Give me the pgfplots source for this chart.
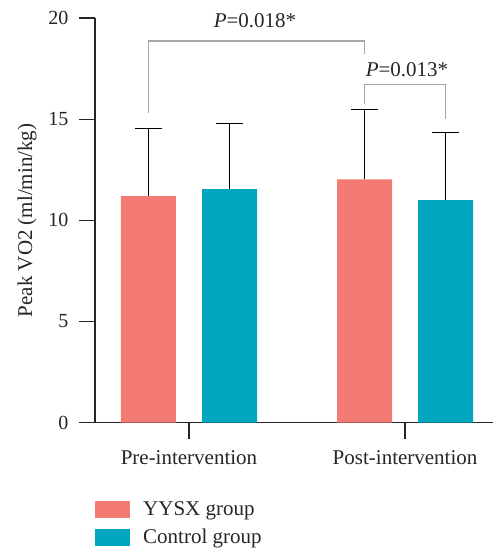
\documentclass[border=0pt]{standalone}
\usepackage{pgfplots}
\pgfplotsset{compat=1.18}
\usepackage{fontspec}
\setmainfont{Liberation Serif}
\definecolor{salmonc}{HTML}{F47B73}
\definecolor{tealc}{HTML}{00A7BE}
\definecolor{bracketc}{HTML}{A6A6A6}
\begin{document}
\begin{tikzpicture}
\path[use as bounding box] (-95pt,-125.3pt) rectangle (398pt,422.7pt);
\begin{axis}[
  at={(0pt,0pt)}, anchor=south west,
  scale only axis, width=398pt, height=404.7pt,
  xmin=-0.435, xmax=1.407, ymin=0, ymax=20,
  axis x line=bottom, axis y line=left,
  axis line style={-, line width=1.2pt, black!85},
  ytick={0,5,10,15,20},
  xtick={0,1}, xticklabels={Pre-intervention, Post-intervention},
  tick align=outside, major tick length=16pt,
  tick style={line width=1.2pt, black!85},
  /pgf/number format/assume math mode=true,
  yticklabel style={font=\fontsize{20}{20}\selectfont, black!85, xshift=-7pt},
  xticklabel style={font=\fontsize{21}{21}\selectfont, black!85, yshift=-8pt},
  ylabel={Peak VO2 (ml/min/kg)},
  ylabel style={at={(axis description cs:0,0.5)}, yshift=68pt, anchor=center, font=\fontsize{21}{21}\selectfont, black!85},
  clip=false,
  legend style={at={(0,0)}, anchor=north west, yshift=-77pt, draw=none, fill=none,
    font=\fontsize{21}{21}\selectfont, row sep=8pt, inner sep=0pt, cells={anchor=west}, text=black!85,
    /tikz/every odd column/.append style={column sep=11pt}},
  legend image code/.code={\fill[#1] (0pt,-8.5pt) rectangle (35pt,8.5pt);},
]
\addplot[ybar, bar width=55pt, bar shift=0pt, fill=salmonc, draw=none,
  error bars/.cd, y dir=plus, y explicit,
  error bar style={line width=1.2pt, black},
  error mark options={rotate=90, mark size=13.5pt, line width=1.2pt, black}]
  coordinates {(-0.1875,11.2) +- (0,3.32) (0.8125,12.03) +- (0,3.43)};
\addlegendentry{YYSX group}
\addplot[ybar, bar width=55pt, bar shift=0pt, fill=tealc, draw=none,
  error bars/.cd, y dir=plus, y explicit,
  error bar style={line width=1.2pt, black},
  error mark options={rotate=90, mark size=13.5pt, line width=1.2pt, black}]
  coordinates {(0.1875,11.54) +- (0,3.23) (1.1875,11.0) +- (0,3.34)};
\addlegendentry{Control group}
\addplot[bracketc, line width=1.2pt, no markers, forget plot]
  coordinates {(-0.1875,15.3) (-0.1875,18.86) (0.8125,18.86) (0.8125,18.2)};
\addplot[bracketc, line width=1.2pt, no markers, forget plot]
  coordinates {(0.8125,15.77) (0.8125,16.71) (1.1875,16.71) (1.1875,15.03)};
\node[anchor=base, font=\fontsize{21}{21}\selectfont, text=black!85, inner sep=0pt] at (axis cs:0.3056,19.51) {\textit{P}=0.018*};
\node[anchor=base, font=\fontsize{21}{21}\selectfont, text=black!85, inner sep=0pt] at (axis cs:1.009,17.12) {\textit{P}=0.013*};
\end{axis}
\end{tikzpicture}
\end{document}
